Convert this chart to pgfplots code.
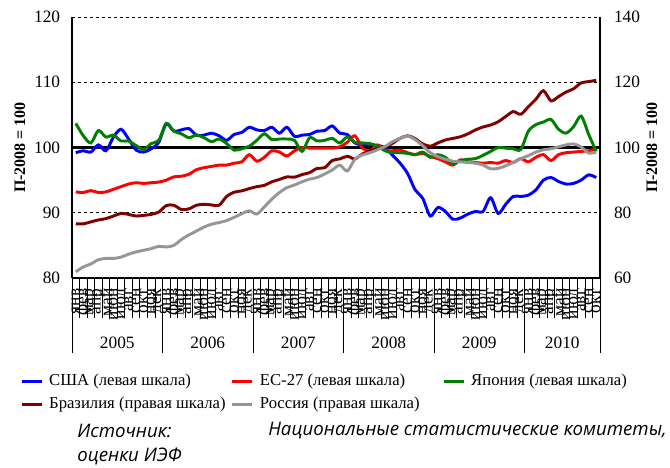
\documentclass[border=0pt]{standalone}
\usepackage{fontspec}
\setmainfont{Liberation Serif}
\newfontfamily\srcfont{Open Sans}
\usepackage{pgfplots}
\pgfplotsset{compat=1.18}

\definecolor{usa}{RGB}{0,0,255}
\definecolor{eu}{RGB}{255,0,0}
\definecolor{jp}{RGB}{0,128,0}
\definecolor{br}{RGB}{128,0,0}
\definecolor{ru}{RGB}{150,150,150}

\newcommand{\fs}{\fontsize{13pt}{15pt}\selectfont}

\pgfplotsset{
  common/.style={
    scale only axis, width=396pt, height=195.75pt,
    xmin=-0.5, xmax=69.5, clip=false,
    axis line style={-, line width=0.9pt},
    major tick length=0pt,
    tick style={black, line width=0.6pt},
    tick align=outside,
    /pgf/number format/assume math mode=true,
    yticklabel style={font=\fs},
  },
  ser/.style={line width=2.2pt, smooth, no markers},
}

\begin{document}
\begin{tikzpicture}
\path[use as bounding box] (-54pt,-141.75pt) rectangle (448.5pt,208.5pt);

% left scale: USA, EU-27, Japan
\begin{axis}[common,
  ymin=80, ymax=120, ytick={80,90,...,120},
  axis x line*=bottom, axis y line*=left,
  ymajorgrids, grid style={black, line width=0.5pt, dash pattern=on 2.5pt off 2pt},
  yticklabel style={xshift=-5.4pt},
  xtick={0,...,69},
  xticklabels={янв,фев,мар,апр,май,июн,июл,авг,сен,окт,ноя,дек,
               янв,фев,мар,апр,май,июн,июл,авг,сен,окт,ноя,дек,
               янв,фев,мар,апр,май,июн,июл,авг,сен,окт,ноя,дек,
               янв,фев,мар,апр,май,июн,июл,авг,сен,окт,ноя,дек,
               янв,фев,мар,апр,май,июн,июл,авг,сен,окт,ноя,дек,
               янв,фев,мар,апр,май,июн,июл,авг,сен,окт},
  xticklabel style={rotate=90, anchor=east, font=\fs},
  xticklabel shift=4.5pt,
  minor xtick={-0.5,0.5,...,69.5}, minor tick length=30pt,
  extra x ticks={-0.5,11.5,23.5,35.5,47.5,59.5,69.5},
  extra x tick labels={,,,,,,},
  extra x tick style={major tick length=56pt},
  every axis y label/.style={at={(axis description cs:-0.0985,0.5)}, rotate=90, anchor=center},
  ylabel={\fontsize{12pt}{14pt}\selectfont\bfseries П-2008 = 100},
]
\addplot[black, line width=1.8pt] coordinates {(-0.5,100) (69.5,100)};

\addplot[ser, usa] coordinates {
(0,99.2) (1,99.5) (2,99.3) (3,100.4) (4,99.5) (5,101.6) (6,102.8) (7,101.3) (8,99.6) (9,99.3)
(10,99.8) (11,100.8) (12,103.6) (13,102.5) (14,102.7) (15,102.9) (16,101.9) (17,101.9) (18,102.2) (19,101.8)
(20,101.1) (21,102.0) (22,102.3) (23,103.1) (24,102.7) (25,102.6) (26,103.1) (27,102.2) (28,103.1) (29,101.7)
(30,101.9) (31,102.0) (32,102.5) (33,102.6) (34,103.3) (35,102.2) (36,102.0) (37,100.7) (38,100.4) (39,100.4)
(40,100.3) (41,100.0) (42,98.8) (43,97.6) (44,96.0) (45,93.5) (46,92.2) (47,89.5) (48,90.8) (49,90.2)
(50,89.0) (51,89.2) (52,89.8) (53,90.2) (54,90.2) (55,92.3) (56,89.9) (57,91.3) (58,92.5) (59,92.5)
(60,92.7) (61,93.5) (62,95.0) (63,95.4) (64,94.8) (65,94.4) (66,94.5) (67,95.0) (68,95.8) (69,95.4)
};

\addplot[ser, eu] coordinates {
(0,93.2) (1,93.1) (2,93.4) (3,93.1) (4,93.2) (5,93.6) (6,94.0) (7,94.4) (8,94.6) (9,94.5)
(10,94.6) (11,94.7) (12,95.0) (13,95.5) (14,95.6) (15,95.9) (16,96.6) (17,96.9) (18,97.1) (19,97.3)
(20,97.3) (21,97.6) (22,97.8) (23,98.9) (24,97.9) (25,98.5) (26,99.5) (27,99.3) (28,98.7) (29,99.5)
(30,100.0) (31,99.9) (32,99.9) (33,99.9) (34,99.9) (35,100.1) (36,100.8) (37,101.8) (38,99.9) (39,99.5)
(40,100.4) (41,99.6) (42,99.5) (43,99.6) (44,99.2) (45,98.9) (46,99.1) (47,98.6) (48,98.3) (49,97.8)
(50,97.3) (51,98.1) (52,97.8) (53,97.7) (54,97.6) (55,97.7) (56,97.6) (57,98.0) (58,97.7) (59,98.3)
(60,97.8) (61,98.5) (62,98.9) (63,98.0) (64,98.9) (65,99.2) (66,99.3) (67,99.4) (68,99.5) (69,99.8)
};

\addplot[ser, jp] coordinates {
(0,103.7) (1,101.8) (2,100.7) (3,102.6) (4,101.6) (5,101.9) (6,101.0) (7,101.0) (8,100.3) (9,99.7)
(10,100.6) (11,101.1) (12,103.7) (13,102.5) (14,102.1) (15,101.5) (16,101.9) (17,101.5) (18,100.9) (19,101.3)
(20,100.6) (21,99.6) (22,99.8) (23,100.2) (24,101.1) (25,102.1) (26,101.2) (27,101.3) (28,101.3) (29,101.1)
(30,99.4) (31,101.5) (32,101.0) (33,101.1) (34,101.4) (35,100.7) (36,101.6) (37,100.8) (38,100.7) (39,100.6)
(40,100.2) (41,99.5) (42,99.2) (43,99.2) (44,99.1) (45,98.9) (46,99.3) (47,98.5) (48,98.9) (49,98.5)
(50,97.5) (51,98.0) (52,98.2) (53,98.3) (54,98.8) (55,99.4) (56,100.0) (57,99.9) (58,99.8) (59,99.7)
(60,102.5) (61,103.5) (62,103.9) (63,104.3) (64,102.8) (65,102.2) (66,103.2) (67,104.8) (68,102.0) (69,99.4)
};

\node[font=\fs, yshift=-48.75pt] at (axis cs:5.5,80) {2005};
\node[font=\fs, yshift=-48.75pt] at (axis cs:17.5,80) {2006};
\node[font=\fs, yshift=-48.75pt] at (axis cs:29.5,80) {2007};
\node[font=\fs, yshift=-48.75pt] at (axis cs:41.5,80) {2008};
\node[font=\fs, yshift=-48.75pt] at (axis cs:53.5,80) {2009};
\node[font=\fs, yshift=-48.75pt] at (axis cs:64.5,80) {2010};
\end{axis}

% right scale: Brazil, Russia
\begin{axis}[common,
  ymin=60, ymax=140, ytick={60,80,...,140},
  axis x line=none, axis y line*=right,
  yticklabel style={xshift=7pt},
  every axis y label/.style={at={(axis description cs:1.0985,0.5)}, rotate=90, anchor=center},
  ylabel={\fontsize{12pt}{14pt}\selectfont\bfseries П-2008 = 100},
  legend columns=3,
  legend cell align=left,
  legend image code/.code={\draw[#1, line width=2.2pt] (0pt,0pt) -- (15pt,0pt);},
  legend style={at={(axis description cs:0,0)}, anchor=north west,
    xshift=-39pt, yshift=-70pt, draw=none, fill=none, inner sep=0pt,
    font=\fontsize{12.5pt}{15pt}\selectfont, row sep=2.75pt,
    nodes={inner sep=1pt, text height=9.5pt, text depth=3pt},
    /tikz/every odd column/.style={column sep=3.5pt},
    /tikz/column 2/.style={column sep=3pt},
    /tikz/column 4/.style={column sep=16pt}},
]
\addlegendimage{usa}
\addlegendentry{США (левая шкала)}
\addlegendimage{eu}
\addlegendentry{ЕС-27 (левая шкала)}
\addlegendimage{jp}
\addlegendentry{Япония (левая шкала)}

\addplot[ser, br] coordinates {
(0,76.6) (1,76.6) (2,77.2) (3,77.8) (4,78.2) (5,79.0) (6,79.8) (7,79.5) (8,79.0) (9,79.2)
(10,79.5) (11,80.2) (12,82.2) (13,82.3) (14,81.0) (15,81.2) (16,82.3) (17,82.6) (18,82.4) (19,82.3)
(20,85.0) (21,86.3) (22,86.7) (23,87.4) (24,88.0) (25,88.4) (26,89.5) (27,90.2) (28,91.0) (29,90.9)
(30,91.7) (31,92.3) (32,93.6) (33,93.8) (34,96.0) (35,96.5) (36,97.3) (37,96.5) (38,98.0) (39,99.0)
(40,99.6) (41,100.1) (42,101.3) (43,102.8) (44,103.6) (45,102.7) (46,101.1) (47,100.4) (48,101.4) (49,102.3)
(50,102.8) (51,103.3) (52,104.2) (53,105.4) (54,106.3) (55,106.9) (56,107.9) (57,109.5) (58,111.0) (59,110.2)
(60,112.5) (61,114.8) (62,117.4) (63,114.3) (64,115.6) (65,117.0) (66,118.0) (67,119.8) (68,120.2) (69,120.6)
};
\addlegendentry{Бразилия (правая шкала)}

\addplot[ser, ru] coordinates {
(0,61.9) (1,63.4) (2,64.3) (3,65.6) (4,66.0) (5,66.0) (6,66.4) (7,67.3) (8,68.0) (9,68.5)
(10,69.0) (11,69.7) (12,69.5) (13,70.0) (14,71.8) (15,73.2) (16,74.4) (17,75.6) (18,76.5) (19,77.0)
(20,77.6) (21,78.6) (22,79.7) (23,80.6) (24,79.6) (25,81.8) (26,84.2) (27,86.2) (28,87.7) (29,88.5)
(30,89.5) (31,90.3) (32,90.8) (33,91.9) (34,93.1) (35,94.6) (36,92.8) (37,96.4) (38,97.7) (39,98.4)
(40,99.3) (41,100.3) (42,101.8) (43,102.8) (44,103.5) (45,102.4) (46,100.5) (47,98.4) (48,97.2) (49,96.4)
(50,95.8) (51,95.6) (52,95.4) (53,95.2) (54,94.6) (55,93.5) (56,93.6) (57,94.4) (58,95.4) (59,96.6)
(60,97.5) (61,98.6) (62,99.3) (63,99.6) (64,100.2) (65,100.8) (66,101.1) (67,100.2) (68,98.3) (69,98.6)
};
\addlegendentry{Россия (правая шкала)}
\end{axis}

% source note
\node[anchor=west, inner sep=0pt, font=\srcfont\itshape\fontsize{14pt}{16pt}\selectfont] at (3.75pt,-114.75pt) {Источник:};
\node[anchor=west, inner sep=0pt, font=\srcfont\itshape\fontsize{14pt}{16pt}\selectfont] at (147pt,-114.75pt) {Национальные статистические комитеты,};
\node[anchor=west, inner sep=0pt, font=\srcfont\itshape\fontsize{14pt}{16pt}\selectfont] at (3.75pt,-133.5pt) {оценки ИЭФ};
\end{tikzpicture}
\end{document}
